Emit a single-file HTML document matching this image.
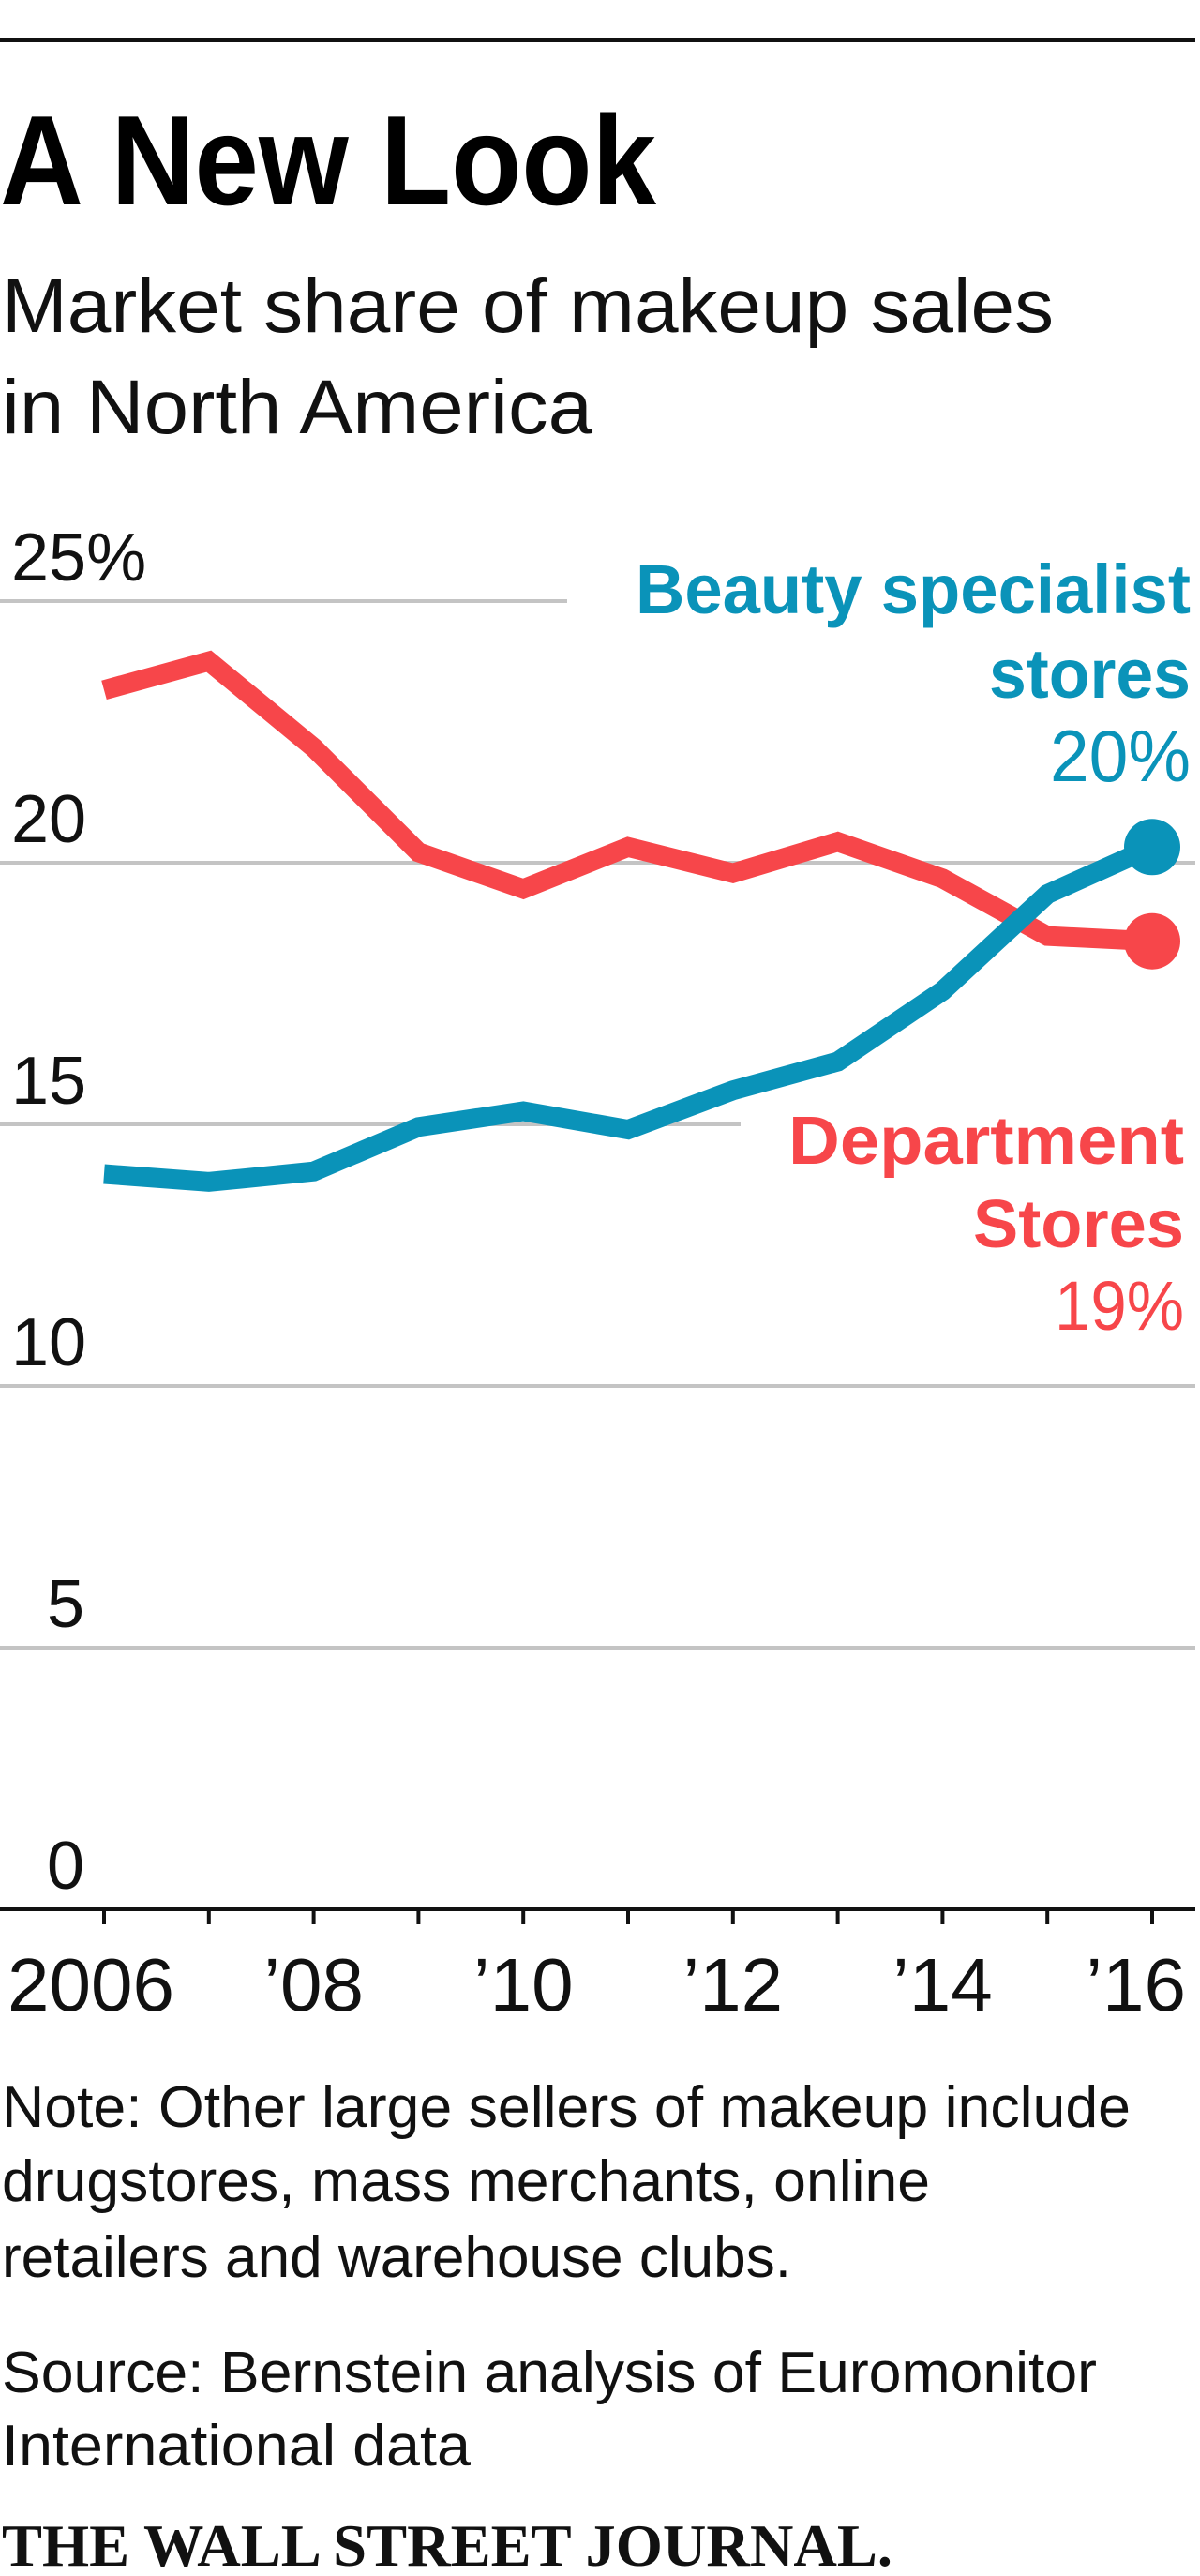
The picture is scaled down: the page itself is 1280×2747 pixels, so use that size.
<!DOCTYPE html>
<html><head><meta charset="utf-8"><style>
html,body{margin:0;padding:0;background:#fff;}
svg{display:block;font-family:"Liberation Sans",sans-serif;}
</style></head><body>
<svg id="chart" width="1280" height="2747" viewBox="0 0 1280 2747" xmlns="http://www.w3.org/2000/svg">
<rect x="0" y="40" width="1275" height="5" fill="#111"/>
<text x="0" y="218" font-size="136" font-weight="bold" textLength="700" lengthAdjust="spacingAndGlyphs" fill="#000">A New Look</text>
<text x="2" y="354" font-size="82" textLength="1122" lengthAdjust="spacingAndGlyphs" fill="#111">Market share of makeup sales</text>
<text x="2" y="462" font-size="82" textLength="630" lengthAdjust="spacingAndGlyphs" fill="#111">in North America</text>
<g id="grid"></g>
<g id="series"></g>
<g id="xaxis"></g>
<text x="1270" y="654" font-size="74" font-weight="bold" text-anchor="end" textLength="592" lengthAdjust="spacingAndGlyphs" fill="#0a93b9">Beauty specialist</text>
<text x="1270" y="744" font-size="74" font-weight="bold" text-anchor="end" textLength="215" lengthAdjust="spacingAndGlyphs" fill="#0a93b9">stores</text>
<text x="1270" y="833" font-size="78" text-anchor="end" textLength="150" lengthAdjust="spacingAndGlyphs" fill="#0a93b9">20%</text>
<text x="1263" y="1241" font-size="72" font-weight="bold" text-anchor="end" textLength="422" lengthAdjust="spacingAndGlyphs" fill="#f7464a">Department</text>
<text x="1263" y="1330" font-size="72" font-weight="bold" text-anchor="end" textLength="225" lengthAdjust="spacingAndGlyphs" fill="#f7464a">Stores</text>
<text x="1263" y="1418" font-size="74" text-anchor="end" textLength="138" lengthAdjust="spacingAndGlyphs" fill="#f7464a">19%</text>
<g font-size="62" fill="#111">
<text x="2" y="2268" textLength="1204" lengthAdjust="spacingAndGlyphs">Note: Other large sellers of makeup include</text>
<text x="2" y="2347" textLength="990" lengthAdjust="spacingAndGlyphs">drugstores, mass merchants, online</text>
<text x="2" y="2428" textLength="842" lengthAdjust="spacingAndGlyphs">retailers and warehouse clubs.</text>
<text x="2" y="2551" textLength="1168" lengthAdjust="spacingAndGlyphs">Source: Bernstein analysis of Euromonitor</text>
<text x="2" y="2629" textLength="500" lengthAdjust="spacingAndGlyphs">International data</text>
</g>
<text x="2" y="2736" font-family="Liberation Serif, serif" font-weight="bold" font-size="64" textLength="950" lengthAdjust="spacingAndGlyphs" fill="#111">THE WALL STREET JOURNAL.</text>
</svg>
<script>
const years = [2006,2007,2008,2009,2010,2011,2012,2013,2014,2015,2016];
const deptStores = [23.3,23.85,22.2,20.2,19.5,20.3,19.8,20.4,19.7,18.6,18.5];
const beautyStores = [14.05,13.9,14.1,14.95,15.25,14.9,15.65,16.2,17.55,19.4,20.3];
const yTicks = [0,5,10,15,20,25];
const yTickLabels = ["0","5","10","15","20","25%"];
const xTickLabels = ["2006","’08","’10","’12","’14","’16"];
const xTickYears = [2006,2008,2010,2012,2014,2016];

const NS="http://www.w3.org/2000/svg";
function xs(yr){return 111+(yr-2006)*111.8;}
function ys(v){return 2036-v*55.8;}
function mk(tag,attrs,parent){const e=document.createElementNS(NS,tag);for(const k in attrs)e.setAttribute(k,attrs[k]);parent.appendChild(e);return e;}
const grid=document.getElementById('grid');
yTicks.forEach((t,i)=>{
  if(t>0){
    const xe = t===25?605:(t===15?790:1275);
    const l=mk('line',{x1:0,x2:xe,y1:ys(t),y2:ys(t),stroke:'#c4c4c4','stroke-width':4},grid);
    
    
  }
  const lab=yTickLabels[i];
  const tx=mk('text',{x:88,y:ys(t)-22,'font-size':72,'text-anchor':'start',fill:'#111'},grid);
  tx.textContent=lab;
  const w=(lab.replace('%','').length)*38;
  tx.setAttribute('x',88-w);
  
  
});
const xa=document.getElementById('xaxis');
const ax=mk('line',{x1:0,x2:1275,y1:2036,y2:2036,stroke:'#111','stroke-width':4},xa);


years.forEach(yr=>{
  const t=mk('line',{x1:xs(yr),x2:xs(yr),y1:2036,y2:2052,stroke:'#111','stroke-width':4},xa);
  
  
});
xTickYears.forEach((yr,i)=>{
  let x=xs(yr), anchor='middle';
  if(i===0){x=8;anchor='start';}
  if(i===xTickYears.length-1){x=1265;anchor='end';}
  const t=mk('text',{x:x,y:2144,'font-size':80,'text-anchor':anchor,fill:'#111'},xa);
  t.textContent=xTickLabels[i];
  
  
});
const sg=document.getElementById('series');
function drawSeries(vals,color,name){
  const pts=years.map((yr,i)=>xs(yr)+','+ys(vals[i])).join(' ');
  const pl=mk('polyline',{points:pts,fill:'none',stroke:color,'stroke-width':21,'stroke-linejoin':'miter'},sg);
  
  
  const n=vals.length-1;
  const c=mk('circle',{cx:xs(years[n]),cy:ys(vals[n]),r:30,fill:color},sg);
  
  
}
drawSeries(deptStores,'#f7464a','department-stores');
drawSeries(beautyStores,'#0a93b9','beauty-specialist');
</script>
</body></html>
